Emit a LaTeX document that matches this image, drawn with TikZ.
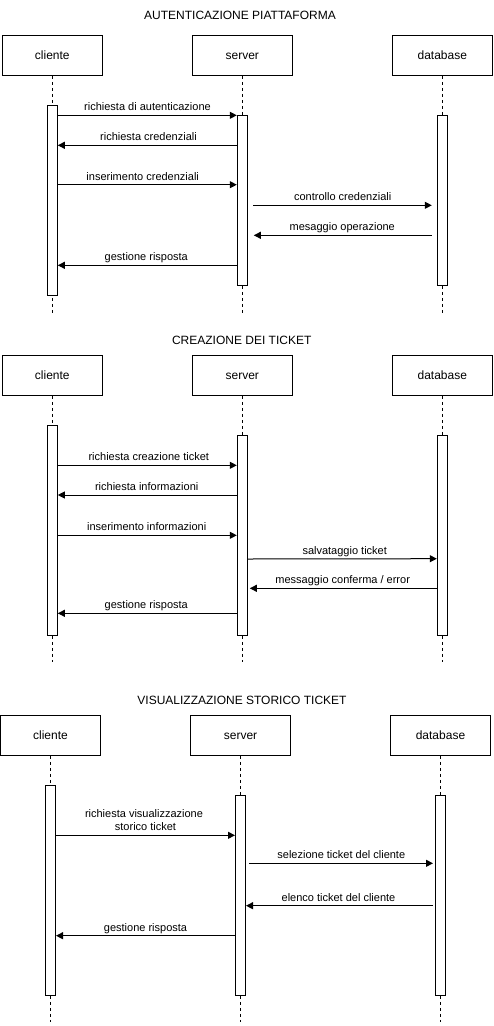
\documentclass[tikz,border=0pt]{standalone}
\usepackage{fontspec}
\setmainfont{Liberation Sans}
\usetikzlibrary{arrows.meta,calc}
\begin{document}
\begin{tikzpicture}[x=1pt,y=-1pt,line width=1pt,
  actor/.style={draw,fill=white,minimum width=100pt,minimum height=40pt,inner sep=0pt,text height=8.6pt,text depth=0pt,font=\fontsize{12}{14}\selectfont},
  bar/.style={draw,fill=white,minimum width=10pt,inner sep=0pt,anchor=north},
  life/.style={dash pattern=on 3pt off 3pt},
  msg/.style={-{Triangle[length=7pt,width=7pt]}},
  lbl/.style={anchor=base,inner sep=0pt,font=\fontsize{11}{13}\selectfont},
  ttl/.style={anchor=base,inner sep=0pt,font=\fontsize{12}{14}\selectfont}]
\useasboundingbox (0,0) rectangle (493,1026);

% ================= Section 1 =================
\node[ttl] (t1) at (240,19.3) {AUTENTICAZIONE PIATTAFORMA};
\node[actor] (c1) at (52.3,55.3) {cliente};
\node[actor] (s1) at (242.3,55.3) {server};
\node[actor] (d1) at (442.3,55.3) {database};
\coordinate (c1e) at (52.3,313);
\coordinate (s1e) at (242.3,313);
\coordinate (d1e) at (442.3,313);
\draw[life] (c1.south) -- (c1e);
\draw[life] (s1.south) -- (s1e);
\draw[life] (d1.south) -- (d1e);
\node[bar,minimum height=190pt] (c1a) at (52.3,105.3) {};
\node[bar,minimum height=170pt] (s1a) at (242.3,115.3) {};
\node[bar,minimum height=170pt] (d1a) at (442.3,115.3) {};

\draw[msg] (c1a.east |- 0,115.3) -- (s1a.west |- 0,115.3);
\node[lbl] (l11) at (147.5,110.6) {richiesta di autenticazione};
\draw[msg] (s1a.west |- 0,145.3) -- (c1a.east |- 0,145.3);
\node[lbl] (l12) at (148.5,140.6) {richiesta credenziali};
\draw[msg] (c1a.east |- 0,184.7) -- (s1a.west |- 0,184.7);
\node[lbl] (l13) at (142.7,180) {inserimento credenziali};
\draw[msg] ($(s1a.east |- 0,205.3)+(5.4,0)$) -- ($(d1a.west |- 0,205.3)+(-5,0)$);
\node[lbl] (l14) at (342.7,200.6) {controllo credenziali};
\draw[msg] ($(d1a.west |- 0,235.3)+(-5,0)$) -- ($(s1a.east |- 0,235.3)+(6,0)$);
\node[lbl] (l15) at (342.3,230.6) {mesaggio operazione};
\draw[msg] (s1a.west |- 0,265.3) -- (c1a.east |- 0,265.3);
\node[lbl] (l16) at (146.3,260.6) {gestione risposta};

% ================= Section 2 =================
\node[ttl] (t2) at (241.7,344.3) {CREAZIONE DEI TICKET};
\node[actor] (c2) at (52.3,375.3) {cliente};
\node[actor] (s2) at (242.3,375.3) {server};
\node[actor] (d2) at (442.3,375.3) {database};
\coordinate (c2e) at (52.3,661.7);
\coordinate (s2e) at (242.3,661.7);
\coordinate (d2e) at (442.3,661.7);
\draw[life] (c2.south) -- (c2e);
\draw[life] (s2.south) -- (s2e);
\draw[life] (d2.south) -- (d2e);
\node[bar,minimum height=210pt] (c2a) at (52.3,425.3) {};
\node[bar,minimum height=200pt] (s2a) at (242.3,435.3) {};
\node[bar,minimum height=200pt] (d2a) at (442.3,435.3) {};

\draw[msg] (c2a.east |- 0,465.3) -- (s2a.west |- 0,465.3);
\node[lbl] (l21) at (148.8,460.6) {richiesta creazione ticket};
\draw[msg] (s2a.west |- 0,495) -- (c2a.east |- 0,495);
\node[lbl] (l22) at (146.7,490.3) {richiesta informazioni};
\draw[msg] (c2a.east |- 0,535.3) -- (s2a.west |- 0,535.3);
\node[lbl] (l23) at (146.7,530.6) {inserimento informazioni};
\draw[msg] (s2a.east |- 0,559) -- (d2a.west |- 0,558.7);
\node[lbl] (l24) at (344.7,554.3) {salvataggio ticket};
\draw[msg] (d2a.west |- 0,588.3) -- ($(s2a.east |- 0,588.3)+(2,0)$);
\node[lbl] (l25) at (342.7,583.6) {messaggio conferma / error};
\draw[msg] (s2a.west |- 0,613.3) -- (c2a.east |- 0,613.3);
\node[lbl] (l26) at (146.3,608.6) {gestione risposta};

% ================= Section 3 =================
\node[ttl] (t3) at (242,704) {VISUALIZZAZIONE STORICO TICKET};
\node[actor] (c3) at (50.5,735.3) {cliente};
\node[actor] (s3) at (240.5,735.3) {server};
\node[actor] (d3) at (440.5,735.3) {database};
\coordinate (c3e) at (50.5,1021.7);
\coordinate (s3e) at (240.5,1021.7);
\coordinate (d3e) at (440.5,1021.7);
\draw[life] (c3.south) -- (c3e);
\draw[life] (s3.south) -- (s3e);
\draw[life] (d3.south) -- (d3e);
\node[bar,minimum height=210pt] (c3a) at (50.5,785.3) {};
\node[bar,minimum height=200pt] (s3a) at (240.5,795.3) {};
\node[bar,minimum height=200pt] (d3a) at (440.5,795.3) {};

\draw[msg] (c3a.east |- 0,835.3) -- (s3a.west |- 0,835.3);
\node[lbl] (l31a) at (144,817.7) {richiesta visualizzazione};
\node[lbl] (l31b) at (145.5,830.2) {storico ticket};
\draw[msg] ($(s3a.east |- 0,863.3)+(3.2,0)$) -- ($(d3a.west |- 0,863.3)+(-2,0)$);
\node[lbl] (l32) at (341.3,858.6) {selezione ticket del cliente};
\draw[msg] ($(d3a.west |- 0,905.7)+(-2,0)$) -- (s3a.east |- 0,905.7);
\node[lbl] (l33) at (338.5,901) {elenco ticket del cliente};
\draw[msg] (s3a.west |- 0,935.7) -- (c3a.east |- 0,935.7);
\node[lbl] (l34) at (145.5,931) {gestione risposta};
\end{tikzpicture}
\end{document}
